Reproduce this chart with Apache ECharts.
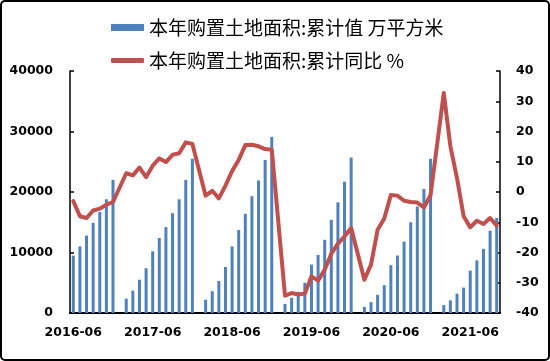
<!DOCTYPE html>
<html>
<head>
<meta charset="utf-8">
<script src="https://cdn.jsdelivr.net/npm/echarts@6/dist/echarts.min.js"></script>
<style>
  html, body { margin: 0; padding: 0; background: #fff; }
  #wrap { position: relative; width: 550px; height: 361px; }
  #chart { position: absolute; left: 0; top: 0; width: 550px; height: 361px; }
  #frame { position: absolute; left: 0; top: 0; width: 550px; height: 361px; box-sizing: border-box;
           border: 2px solid #000; border-radius: 5px; pointer-events: none; }
</style>
</head>
<body>
<div id="wrap"><div id="chart"></div><div id="frame"></div></div>
<script>
// Categories: monthly, 2016-06 to 2021-10 (January has no data)
const categories = [
  '2016-06','2016-07','2016-08','2016-09','2016-10','2016-11','2016-12',
  '2017-01','2017-02','2017-03','2017-04','2017-05','2017-06','2017-07','2017-08','2017-09','2017-10','2017-11','2017-12',
  '2018-01','2018-02','2018-03','2018-04','2018-05','2018-06','2018-07','2018-08','2018-09','2018-10','2018-11','2018-12',
  '2019-01','2019-02','2019-03','2019-04','2019-05','2019-06','2019-07','2019-08','2019-09','2019-10','2019-11','2019-12',
  '2020-01','2020-02','2020-03','2020-04','2020-05','2020-06','2020-07','2020-08','2020-09','2020-10','2020-11','2020-12',
  '2021-01','2021-02','2021-03','2021-04','2021-05','2021-06','2021-07','2021-08','2021-09','2021-10'
];

// 本年购置土地面积:累计值 (万平方米)
const areaCum = [
  9480, 11000, 12800, 14900, 16700, 18800, 22000,
  null, 2370, 3700, 5500, 7400, 10200, 12400, 14200, 16500, 18800, 22000, 25500,
  null, 2200, 3600, 5300, 7600, 11000, 13700, 16400, 19300, 21900, 25300, 29100,
  null, 1500, 2500, 3500, 5000, 8000, 9600, 12100, 15400, 18300, 21700, 25700,
  null, 1000, 1800, 3000, 4600, 7900, 9500, 11800, 15000, 17600, 20500, 25500,
  null, 1300, 2100, 3200, 4200, 7000, 8700, 10600, 13600, 15700
];

// 本年购置土地面积:累计同比 (%)
const areaYoY = [
  -3.0, -8.0, -8.6, -6.1, -5.5, -4.2, -3.3,
  null, 6.2, 5.5, 8.1, 4.9, 8.7, 11.1, 9.9, 12.3, 12.8, 16.4, 15.9,
  null, -1.2, 0.4, -2.1, 2.1, 6.9, 10.6, 15.5, 15.6, 15.1, 14.2, 14.0,
  null, -34.3, -33.4, -33.9, -33.6, -27.9, -29.3, -25.7, -20.4, -17.1, -14.7, -11.9,
  null, -29.0, -24.0, -12.5, -8.8, -1.0, -1.2, -2.9, -3.3, -3.5, -5.1, -1.1,
  null, 32.7, 15.1, 4.6, -8.0, -11.7, -9.5, -10.6, -8.6, -11.1
];

const seriesNames = ['本年购置土地面积:累计值 万平方米', '本年购置土地面积:累计同比 %'];

const axisFont = { fontFamily: 'DejaVu Sans', fontWeight: 'bold', fontSize: 12.5, color: '#000' };
const legendFont = { fontFamily: 'Noto Sans CJK SC', fontSize: 19, color: '#000' };
const plain = function (v) { return String(v); };

const chart = echarts.init(document.getElementById('chart'), null, { renderer: 'canvas' });
chart.setOption({
  animation: false,
  backgroundColor: '#fff',
  grid: { left: 70, right: 50, top: 71, bottom: 48 },
  legend: [
    { data: [seriesNames[0]], left: 111, top: 18, padding: 0, itemWidth: 33, itemHeight: 7,
      icon: 'rect', textStyle: legendFont },
    { data: [seriesNames[1]], left: 111, top: 51, padding: 0, itemWidth: 33, itemHeight: 5,
      icon: 'roundRect', textStyle: legendFont }
  ],
  xAxis: {
    type: 'category',
    data: categories,
    boundaryGap: true,
    axisLine: { lineStyle: { color: '#000', width: 2 } },
    axisTick: { inside: true, interval: 11, length: 4, lineStyle: { color: '#000', width: 1.5 } },
    axisLabel: Object.assign({ interval: 11, margin: 13 }, axisFont),
    splitLine: { show: false }
  },
  yAxis: [
    { type: 'value', min: 0, max: 40000, interval: 10000, position: 'left',
      axisLine: { show: true, lineStyle: { color: '#000', width: 1.5 } },
      axisTick: { show: true, inside: true, length: 4, lineStyle: { color: '#000', width: 1.5 } },
      axisLabel: Object.assign({ margin: 17, formatter: plain }, axisFont),
      splitLine: { show: false } },
    { type: 'value', min: -40, max: 40, interval: 10, position: 'right',
      axisLine: { show: true, lineStyle: { color: '#000', width: 1.5 } },
      axisTick: { show: true, inside: true, length: 4, lineStyle: { color: '#000', width: 1.5 } },
      axisLabel: Object.assign({ margin: 16, formatter: plain }, axisFont),
      splitLine: { show: false } }
  ],
  series: [
    { name: seriesNames[0], type: 'bar', yAxisIndex: 0, data: areaCum, barWidth: 3,
      itemStyle: { color: '#4F81BD' } },
    { name: seriesNames[1], type: 'line', yAxisIndex: 1, data: areaYoY, connectNulls: true,
      showSymbol: false, symbol: 'none', smooth: false,
      lineStyle: { color: '#C0504D', width: 4, join: 'round', cap: 'round' },
      itemStyle: { color: '#C0504D' } }
  ]
});
</script>
</body>
</html>
